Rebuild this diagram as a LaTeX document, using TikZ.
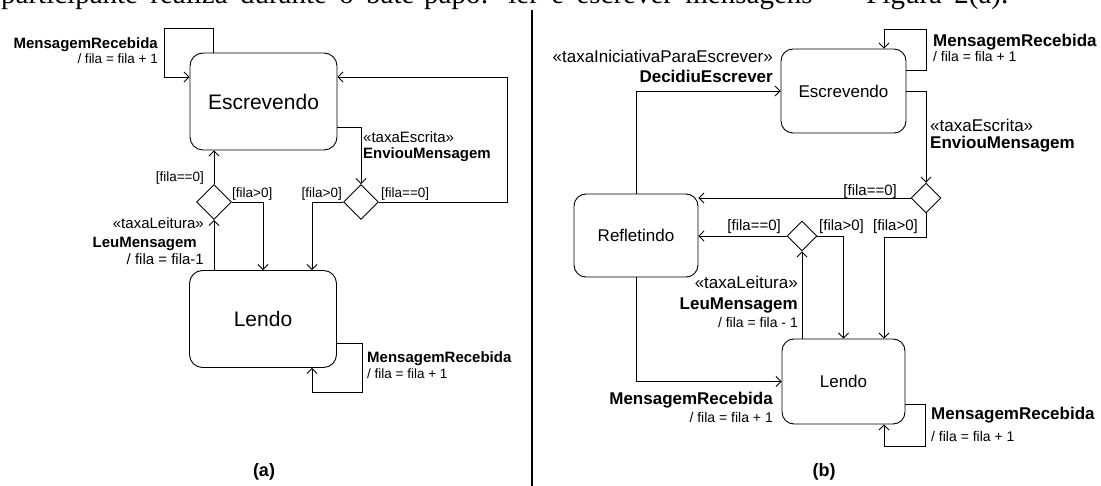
\documentclass[tikz,border=0pt]{standalone}
\usepackage{fontspec}
\setmainfont{Liberation Sans}
\newfontfamily\bodyserif{Liberation Serif}
\usetikzlibrary{arrows.meta,shapes.geometric,calc}
\tikzset{
  tr/.style={-{Straight Barb[length=5pt, width=10pt]}, line width=0.9pt, rounded corners=0pt},
  stA/.style={draw, line width=0.9pt, rounded corners=13pt, minimum width=147pt, minimum height=97pt,
    inner sep=0pt, font=\fontsize{21}{24}\selectfont},
  stB/.style={draw, line width=0.9pt, rounded corners=12pt, minimum width=124pt, minimum height=84pt,
    inner sep=0pt, font=\fontsize{17}{20}\selectfont},
  chA/.style={draw, diamond, aspect=1, line width=0.9pt, minimum width=35pt, minimum height=35pt, inner sep=0pt},
  chB/.style={draw, diamond, aspect=1, line width=0.9pt, minimum width=30pt, minimum height=30pt, inner sep=0pt},
  txA/.style={inner sep=0pt, font=\fontsize{13.5}{16}\selectfont},
  evA/.style={inner sep=0pt, font=\fontsize{15}{18}\selectfont\bfseries},
  stereoA/.style={inner sep=0pt, font=\fontsize{15}{17}\selectfont},
  txB/.style={inner sep=0pt, font=\fontsize{14}{16}\selectfont},
  grdB/.style={inner sep=0pt, font=\fontsize{15}{17}\selectfont},
  evB/.style={inner sep=0pt, font=\fontsize{17}{20}\selectfont\bfseries},
  stereoB/.style={inner sep=0pt, font=\fontsize{17}{20}\selectfont},
  caption/.style={inner sep=0pt, font=\fontsize{18}{20}\selectfont\bfseries},
}

\begin{document}
\begin{tikzpicture}[x=1pt, y=-1pt]
  \useasboundingbox (0,0) rectangle (1101,486);
  % cut line of the running text above the figure
  \node[anchor=base west, inner sep=0pt, font=\bodyserif\fontsize{29}{32}\selectfont] (bodyline) at (1,3.5)
    {\makebox[1007pt][s]{participante realiza durante o bate-papo: ler e escrever mensagens — Figura 2(a).}};
  \draw[line width=2pt] (531.5,10) coordinate (divtop) -- (531.5,486) coordinate (divbot);

  % ---- (a) ----
  \node[stA] (escA) at (263.5,101.5) {Escrevendo};
  \node[stA] (lenA) at (263,319) {Lendo};
  \node[chA] (dA1) at (214,202) {};
  \node[chA] (dA2) at (361,202) {};

  \draw[tr] ([xshift=-50.5pt]escA.north) -- ++(0,-24) -- ++(-49,0) |- ([yshift=24.5pt]escA.west);
  \node[evA, anchor=base east] (recA1) at (158,48.5) {MensagemRecebida};
  \node[txA, anchor=base east] (incA1) at (158,64) {/ fila = fila + 1};

  \draw[tr] ([yshift=-25.5pt]escA.east) -| (dA2.north);
  \node[stereoA, anchor=base west] (stEsc) at (363,143) {«taxaEscrita»};
  \node[evA, anchor=base west] (evEnv) at (363,158.5) {EnviouMensagem};

  \draw[tr] (dA2.east) -- ++(128,0) |- ([yshift=24.5pt]escA.east);
  \node[txA, anchor=base west] (gA4) at (381,198) {[fila==0]};
  \draw[tr] (dA2.west) -| ([xshift=49pt]lenA.north);
  \node[txA, anchor=base east] (gA3) at (342,198) {[fila>0]};

  \draw[tr] (dA1.north) -- (dA1.north |- escA.south);
  \node[txA, anchor=base east] (gA1) at (204,182) {[fila==0]};
  \draw[tr] (dA1.east) -| (lenA.north);
  \node[txA, anchor=base west] (gA2) at (232,198) {[fila>0]};

  \draw[tr] (dA1.south |- lenA.north) -- (dA1.south);
  \node[stereoA, anchor=base east] (stLei) at (204,229) {«taxaLeitura»};
  \node[evA, anchor=base east] (evLeu) at (197,248) {LeuMensagem};
  \node[stereoA, anchor=base east] (decA) at (204,265) {/ fila = fila-1};

  \draw[tr] ([yshift=-24pt]lenA.east) -- ++(25,0) -- ++(0,49) -| ([xshift=49pt]lenA.south);
  \node[evA, anchor=base west] (recA2) at (367,362.5) {MensagemRecebida};
  \node[txA, anchor=base west] (incA2) at (367,379) {/ fila = fila + 1};

  \node[caption] (capA) at (264,472) {(a)};

  % ---- (b) ----
  \node[stB, minimum width=125pt] (escB) at (843.5,91) {Escrevendo};
  \node[stB, minimum height=83pt] (refB) at (636,235.5) {Refletindo};
  \node[stB, minimum width=123pt, minimum height=85pt] (lenB) at (843.5,381.5) {Lendo};
  \node[chB] (dB3) at (926,198) {};
  \node[chB] (dB4) at (802,236) {};

  \draw[tr] ([yshift=21pt]escB.east) -- ++(20,0) -- ++(0,-41) -| ([xshift=40.5pt]escB.north);
  \node[evB, anchor=base west] (recB1) at (933,47) {MensagemRecebida};
  \node[txB, anchor=base west] (incB1) at (933,62) {/ fila = fila + 1};

  \draw[tr] (refB.north) |- (escB.west);
  \node[stereoB, anchor=base east] (stIni) at (773,63) {«taxaIniciativaParaEscrever»};
  \node[evB, anchor=base east] (evDec) at (773,83) {DecidiuEscrever};

  \draw[tr] (escB.east) -| (dB3.north);
  \node[stereoB, anchor=base west] (stEscB) at (930,132) {«taxaEscrita»};
  \node[evB, anchor=base west] (evEnvB) at (930,149) {EnviouMensagem};

  \draw[tr] (dB3.west) -- (dB3.west -| refB.east);
  \node[grdB, anchor=base east] (gB1) at (897,196) {[fila==0]};
  \draw[tr] (dB3.south) -- ++(0,24) -| ([xshift=40.5pt]lenB.north);
  \node[grdB, anchor=base east] (gB2) at (918,231) {[fila>0]};

  \draw[tr] (dB4.west) -- (dB4.west -| refB.east);
  \node[grdB, anchor=base east] (gB3) at (781,231) {[fila==0]};
  \draw[tr] (dB4.east) -| (lenB.north);
  \node[grdB, anchor=base west] (gB4) at (819,231) {[fila>0]};

  \draw[tr] (dB4.south |- lenB.north) -- (dB4.south);
  \node[stereoB, anchor=base east] (stLeiB) at (798,289) {«taxaLeitura»};
  \node[evB, anchor=base east] (evLeuB) at (798,310) {LeuMensagem};
  \node[txB, anchor=base east] (decB) at (798,328) {/ fila = fila - 1};

  \draw[tr] (refB.south) |- (lenB.west);
  \node[evB, anchor=base east] (recB2) at (773,404) {MensagemRecebida};
  \node[txB, anchor=base east] (incB2) at (773,422) {/ fila = fila + 1};

  \draw[tr] ([yshift=-22.5pt]lenB.east) -- ++(20,0) -- ++(0,42) -| ([xshift=40.5pt]lenB.south);
  \node[evB, anchor=base west] (recB3) at (931,419) {MensagemRecebida};
  \node[txB, anchor=base west] (incB3) at (931,441) {/ fila = fila + 1};

  \node[caption] (capB) at (824,472) {(b)};
\end{tikzpicture}
\end{document}
